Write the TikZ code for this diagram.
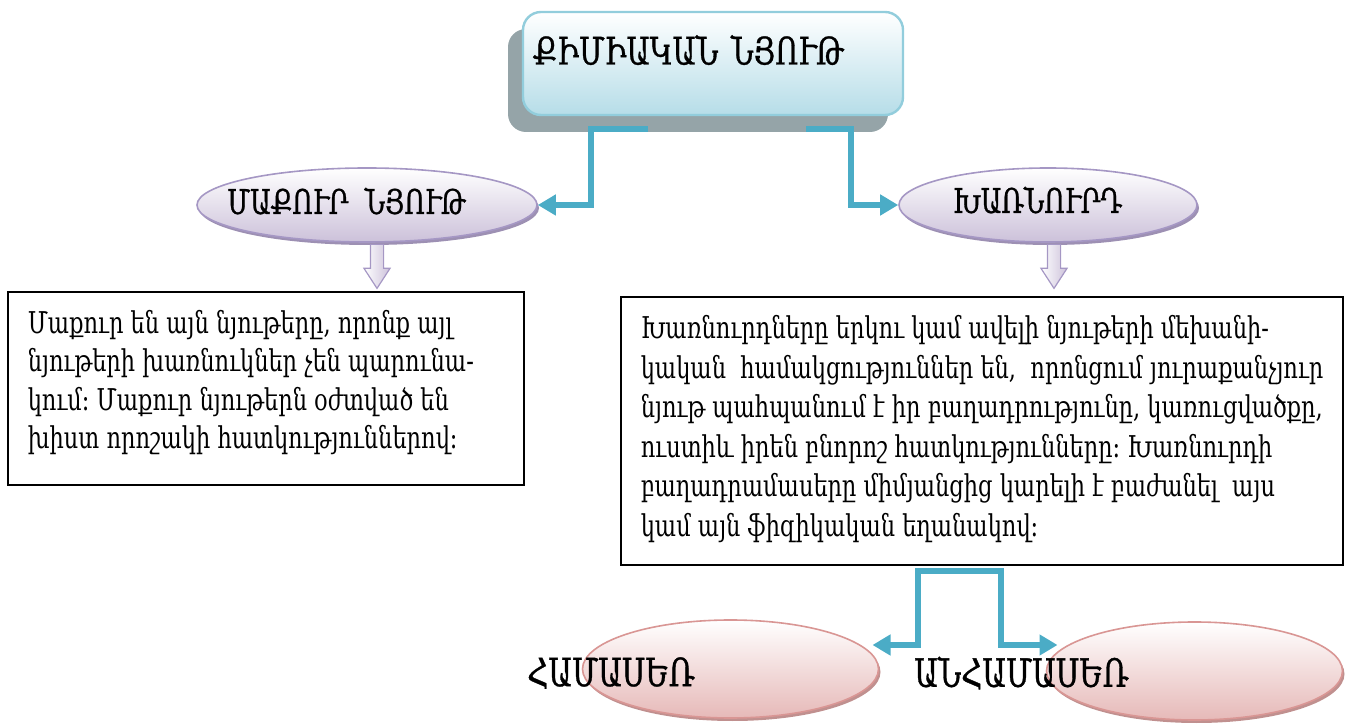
\documentclass[tikz,border=0pt]{standalone}
\usepackage{fontspec}
\setmainfont[FakeStretch=0.75]{DejaVu Serif}
\newfontfamily\headfont[FakeStretch=0.75,FakeBold=0.8]{DejaVu Serif}
\usetikzlibrary{arrows.meta,positioning,shapes.geometric,shapes.arrows,shadows}

\definecolor{linkblue}{HTML}{4BACC6}
\definecolor{titleline}{HTML}{92CDDC}
\definecolor{titlefill}{HTML}{B6DDE8}
\definecolor{titleshadow}{HTML}{95A4A8}
\definecolor{lavline}{HTML}{A597C4}
\definecolor{lavfill}{HTML}{CCC1DA}
\definecolor{lavshadow}{HTML}{9D90B3}
\definecolor{pinkline}{HTML}{D99694}
\definecolor{pinkfill}{HTML}{E6B9B8}
\definecolor{pinkshadow}{HTML}{C0908F}

\begin{document}
\begin{tikzpicture}[x=0.5pt,y=-0.5pt,semithick]
	  \tikzstyle{conn}=[draw=linkblue,line width=3pt,-{Triangle[length=9pt,width=10pt]}]
	  \tikzstyle{kind}=[ellipse,draw=lavline,line width=0.8pt,top color=white,bottom color=lavfill,minimum height=37pt,drop shadow={shadow xshift=1pt,shadow yshift=-1.5pt,fill=lavshadow,opacity=1}]
	  \tikzstyle{kindtext}=[font=\headfont\fontsize{17}{19}\selectfont]
	  \tikzstyle{sort}=[ellipse,draw=pinkline,line width=0.8pt,top color=white,bottom color=pinkfill,minimum width=148pt,minimum height=49pt,drop shadow={shadow xshift=1pt,shadow yshift=-1.5pt,fill=pinkshadow,opacity=1}]
	  \tikzstyle{sorttext}=[font=\headfont\fontsize{19.5}{22}\selectfont]
	  \tikzstyle{descbox}=[rectangle,draw=black,line width=0.8pt,fill=white]
	  \tikzstyle{desc}=[align=left,inner sep=0pt,anchor=north west,font=\fontsize{15}{19.25}\selectfont]
	  \tikzstyle{down}=[single arrow,shape border rotate=270,draw=lavline,left color=white,right color=lavfill,inner sep=3pt,minimum height=22pt,minimum width=12.5pt,single arrow head extend=3.25pt,single arrow tip angle=66,anchor=tail]

	  \useasboundingbox (0,0) rectangle (1360,726);

	  \node[rectangle,rounded corners=9pt,draw=titleline,line width=1.2pt,top color=white,bottom color=titlefill,
	    minimum width=190pt,minimum height=51.5pt,text width=180pt,inner xsep=5pt,align=left,
	    text height=13pt,text depth=12pt,font=\headfont\fontsize{19}{22}\selectfont,
	    drop shadow={shadow xshift=-7.5pt,shadow yshift=-8.5pt,fill=titleshadow,opacity=1}] (title) at (713,63.5) {ՔԻՄԻԱԿԱՆ ՆՅՈՒԹ};

	  \node[kind,minimum width=170pt,label={[kindtext,xshift=-10.25pt,yshift=2pt]center:ՄԱՔՈՒՐ\ \ ՆՅՈՒԹ}] (pure) at (367,205) {};
	  \node[kind,minimum width=149pt,label={[kindtext,xshift=-5.25pt,yshift=2.5pt]center:ԽԱՌՆՈՒՐԴ}] (mix) at (1048,205) {};

	  \coordinate (tl) at ([shift={(-65,13)}]title.south);
	  \coordinate (tr) at ([shift={(93,13)}]title.south);
	  \draw[conn] (tl) -- ++(-57,0) |- (pure);
	  \draw[conn] (tr) -- ++(45,0) |- (mix);

	  \node[down] (purearrow) at ([shift={(10,1)}]pure.south) {};
	  \node[down] (mixarrow) at ([shift={(6,1)}]mix.south) {};

	  \node[descbox,minimum width=258pt,minimum height=96.5pt] (purebox) at (266,388.5) {};
	  \node[desc] (puretext) at ([shift={(20,18.5)}]purebox.north west) {Մաքուր են այն նյութերը, որոնք այլ\\
	    նյութերի խառնուկներ չեն պարունա-\\
	    կում։ Մաքուր նյութերն օժտված են\\
	    խիստ որոշակի հատկություններով։};

	  \node[descbox,minimum width=361pt,minimum height=134pt] (mixbox) at (982,431) {};
	  \node[desc,font=\fontsize{15}{19.8}\selectfont] (mixtext) at ([shift={(20,18.5)}]mixbox.north west) {Խառնուրդները երկու կամ ավելի նյութերի մեխանի-\\
	    կական\ \ համակցություններ են,\ \ որոնցում յուրաքանչյուր\\
	    նյութ պահպանում է իր բաղադրությունը, կառուցվածքը,\\
	    ուստիև իրեն բնորոշ հատկությունները։ Խառնուրդի\\
	    բաղադրամասերը միմյանցից կարելի է բաժանել\ \ այս\\
	    կամ այն ֆիզիկական եղանակով։};

	  \node[sort,label={[sorttext,xshift=-59.75pt,yshift=-2pt]center:ՀԱՄԱՍԵՌ}] (hom) at (730.5,669) {};
	  \node[sort,label={[sorttext,xshift=-86.5pt,yshift=-1pt]center:ԱՆՀԱՄԱՍԵՌ}] (het) at (1194.5,671) {};

	  \coordinate (split) at ([shift={(-23,5)}]mixbox.south);
	  \draw[conn] (split) -| ([shift={(187,-24)}]hom.center) -- ([shift={(142,-24)}]hom.center);
	  \draw[conn] (split) -| ([shift={(-194,-26)}]het.center) -- ([shift={(-137,-26)}]het.center);
	\end{tikzpicture}
\end{document}
